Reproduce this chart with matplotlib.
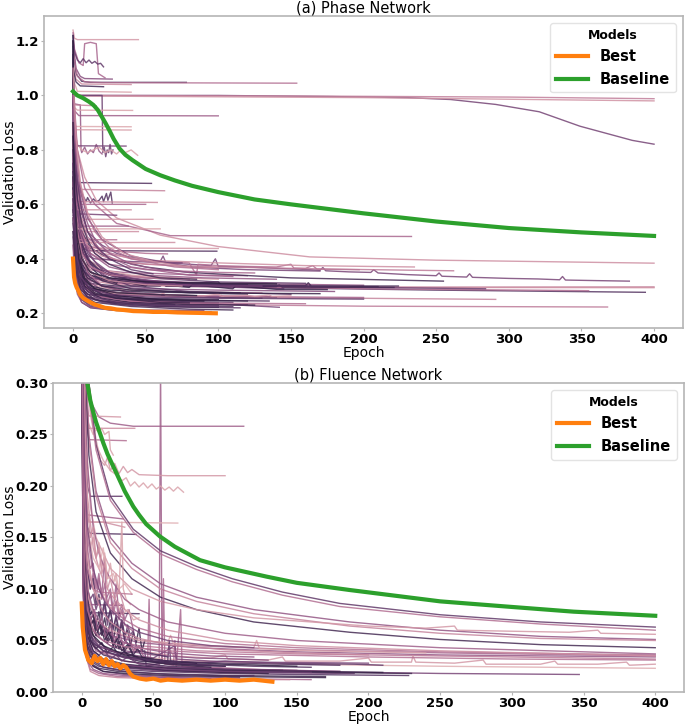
import numpy as np
import matplotlib
matplotlib.use('Agg')
import matplotlib.pyplot as plt
import seaborn as sns

# ---- (a) Phase network: best / baseline (epoch, loss) ----
phase_best_epoch = [0, 0.7, 1.5, 2.5, 3.6, 5, 7, 9.4, 12, 15, 18.6, 22, 26, 30, 35, 41.4, 48, 55, 64, 72, 80, 90, 98.3]
phase_best_loss = [0.401, 0.333, 0.31, 0.295, 0.284, 0.268, 0.256, 0.248, 0.24, 0.232, 0.226, 0.22, 0.218, 0.214, 0.212, 0.208, 0.207, 0.205, 0.205, 0.203, 0.202, 0.201, 0.2]
phase_base_epoch = [0, 3, 7, 11, 14, 17, 20, 22.5, 25, 28, 32, 36, 41, 50, 60, 70, 82, 100, 125, 150, 200, 250, 300, 350, 400]
phase_base_loss = [1.015, 1.0, 0.99, 0.977, 0.965, 0.947, 0.92, 0.897, 0.872, 0.84, 0.805, 0.782, 0.762, 0.73, 0.707, 0.688, 0.668, 0.645, 0.618, 0.6, 0.567, 0.537, 0.513, 0.497, 0.484]

# other trials: flat [epoch, loss, epoch, loss, ...] and a shade (0 light .. 1 dark)
phase_runs = [
    [0, 1.24, 1, 1.21, 3, 1.205, 45, 1.205],
    [0, 1.23, 1, 1.17, 4, 1.12, 7, 1.11, 8, 1.19, 12, 1.195, 16, 1.19, 17.5, 1.08, 22, 1.065],
    [0, 1.22, 1, 1.16, 3, 1.13, 5, 1.12, 7, 1.135, 9, 1.12, 11, 1.13, 13, 1.118, 15, 1.125, 17, 1.115, 19, 1.118, 21, 1.105],
    [0, 1.2, 2, 1.1, 5, 1.07, 8, 1.062, 27, 1.06],
    [0, 1.18, 2, 1.08, 6, 1.052, 12, 1.048, 78, 1.048],
    [0, 1.16, 3, 1.07, 8, 1.05, 20, 1.047, 154, 1.045],
    [0, 1.12, 2, 1.06, 6, 1.042, 40, 1.04],
    [0, 1.1, 2, 1.05, 5, 1.035, 21, 1.032],
    [0, 1.06, 3, 1.015, 40, 1.012],
    [0, 1.0, 100, 1.0, 176, 0.996, 230, 0.992, 260, 0.985, 291, 0.967, 321, 0.94, 349, 0.887, 367, 0.861, 385, 0.835, 400, 0.821],
    [0, 1.0, 150, 0.998, 300, 0.994, 400, 0.988],
    [0, 0.998, 200, 0.992, 400, 0.98],
    [0, 1.0, 20, 1.0, 20.5, 0.79, 21.5, 0.81, 22.5, 0.775, 23.5, 0.8, 24.5, 0.79, 25.5, 0.82, 26.5, 0.785, 27.5, 0.8],
    [0, 0.97, 5, 0.965, 5.5, 0.8, 6, 0.79, 8, 0.81, 10, 0.785, 12, 0.8, 14, 0.79, 16, 0.82, 18, 0.795, 20, 0.785],
    [0, 0.9, 3, 0.82, 6, 0.8, 10, 0.79, 14, 0.8, 18, 0.81, 22, 0.79, 26, 0.8, 30, 0.785, 33, 0.8, 36, 0.79, 40, 0.8, 44.5, 0.78],
    [0, 0.97, 2, 0.965, 16, 0.962],
    [0, 0.96, 3, 0.946, 41, 0.945],
    [0, 0.95, 4, 0.926, 100, 0.925],
    [0, 0.9, 2, 0.886, 40, 0.885],
    [0, 0.88, 2, 0.874, 40, 0.873],
    [0, 0.85, 2, 0.815, 36.5, 0.814],
    [0, 0.75, 3, 0.68, 5, 0.66, 7, 0.63, 9, 0.61, 10, 0.625, 12, 0.605, 14, 0.62, 16, 0.61, 18, 0.615, 20, 0.63, 21, 0.61, 23, 0.64, 24, 0.615, 26, 0.645, 27, 0.605],
    [0, 0.72, 3, 0.68, 54, 0.677],
    [0, 0.7, 3, 0.655, 63, 0.65],
    [0, 0.66, 3, 0.61, 58, 0.607],
    [0, 1.0, 3, 0.8, 8, 0.7, 16, 0.615, 30, 0.55, 60, 0.487, 100, 0.445, 163, 0.407, 250, 0.395, 400, 0.384],
    [0, 1.05, 3, 0.8, 8, 0.66, 15, 0.6, 30, 0.53, 67, 0.485, 233, 0.482],
    [0, 1.1, 2, 0.75, 5, 0.58, 10, 0.5, 20, 0.45, 30, 0.42, 40, 0.405, 50, 0.395, 60, 0.39, 62, 0.41, 64, 0.385, 80, 0.38, 95, 0.375, 98, 0.4, 100, 0.372,
     120, 0.37, 140, 0.365, 156, 0.362, 170, 0.358, 172, 0.368, 174, 0.356, 190, 0.352, 205, 0.35, 207, 0.36, 210, 0.348, 230, 0.342, 250, 0.338,
     252, 0.348, 254, 0.336, 271, 0.333, 273, 0.345, 275, 0.332, 300, 0.328, 320, 0.326, 335, 0.323, 337, 0.335, 339, 0.322, 360, 0.32, 383, 0.318],
    [0, 1.0, 2, 0.7, 5, 0.56, 10, 0.48, 20, 0.43, 40, 0.4, 60, 0.39, 80, 0.385, 85, 0.34, 86, 0.38, 100, 0.375, 120, 0.372, 140, 0.37, 150, 0.38,
     152, 0.366, 160, 0.365, 165, 0.375, 168, 0.362, 197, 0.36],
    [0, 0.62, 2, 0.5, 5, 0.45, 10, 0.43, 99, 0.428],
    [0, 0.6, 3, 0.47, 8, 0.44, 100, 0.438],
    [0, 0.58, 3, 0.5, 6, 0.5, 45, 0.5],
    [0, 0.56, 4, 0.52, 38, 0.52],
    [0, 0.57, 4, 0.545, 55, 0.545],
    [0, 0.6, 4, 0.565, 30, 0.56],
    [0, 0.95, 3, 0.6, 8, 0.48, 20, 0.42, 50, 0.395, 100, 0.385, 160, 0.375, 235, 0.37],
    [0, 0.9, 3, 0.55, 8, 0.45, 20, 0.4, 50, 0.38, 100, 0.37, 180, 0.362, 262, 0.356],
    [0, 1.0, 1, 0.6, 3, 0.42, 6, 0.36, 12, 0.33, 30, 0.31, 80, 0.3, 150, 0.297, 250, 0.296, 400, 0.297],
    [0, 0.9, 1, 0.55, 3, 0.4, 6, 0.35, 12, 0.32, 30, 0.305, 80, 0.298, 200, 0.295, 400, 0.294],
    [0, 0.95, 1, 0.6, 3, 0.42, 8, 0.35, 20, 0.32, 50, 0.305, 120, 0.295, 250, 0.285, 394, 0.277],
    [0, 0.8, 2, 0.45, 5, 0.36, 10, 0.33, 30, 0.31, 100, 0.3, 200, 0.29, 355, 0.283],
    [0, 0.85, 2, 0.45, 5, 0.37, 12, 0.33, 40, 0.31, 80, 0.305, 82, 0.312, 84, 0.303, 120, 0.3, 160, 0.298, 162, 0.306, 164, 0.297, 200, 0.295, 284, 0.29],
    [0, 0.7, 2, 0.42, 5, 0.34, 10, 0.31, 30, 0.3, 60, 0.3, 62, 0.308, 64, 0.299, 100, 0.298, 140, 0.298, 142, 0.305, 144, 0.296, 221, 0.295],
    [0, 0.75, 2, 0.4, 5, 0.32, 10, 0.29, 30, 0.27, 100, 0.26, 200, 0.255, 291, 0.251],
    [0, 0.65, 2, 0.38, 5, 0.3, 10, 0.27, 30, 0.245, 100, 0.232, 200, 0.226, 368, 0.223],
    [0, 0.8, 1, 0.5, 3, 0.35, 6, 0.3, 15, 0.27, 40, 0.25, 80, 0.24, 142, 0.222],
    [0, 0.9, 1, 0.5, 3, 0.32, 6, 0.27, 15, 0.24, 40, 0.225, 80, 0.215, 110, 0.212],
    [0, 0.7, 1, 0.45, 3, 0.3, 6, 0.25, 12, 0.225, 30, 0.212, 60, 0.208, 95, 0.206],
    [0, 0.6, 1, 0.4, 3, 0.28, 6, 0.24, 12, 0.22, 30, 0.21, 70, 0.205],
    [0, 0.8, 2, 0.45, 4, 0.34, 8, 0.3, 20, 0.28, 50, 0.27, 100, 0.262, 140, 0.26],
    [0, 0.85, 2, 0.5, 4, 0.38, 8, 0.33, 20, 0.3, 50, 0.29, 100, 0.285, 180, 0.28],
    [0, 1.1, 1, 0.7, 3, 0.5, 6, 0.42, 12, 0.37, 25, 0.34, 50, 0.32, 100, 0.31, 200, 0.303],
    [0, 1.2, 1, 0.8, 3, 0.55, 6, 0.45, 12, 0.39, 25, 0.35, 50, 0.33, 100, 0.315, 160, 0.31],
    [0, 0.75, 2, 0.44, 5, 0.35, 10, 0.31, 25, 0.29, 60, 0.28, 130, 0.275],
    [0, 0.7, 2, 0.4, 5, 0.32, 10, 0.29, 25, 0.27, 60, 0.262, 100, 0.26, 102, 0.266, 104, 0.259, 128, 0.26],
    [0, 0.9, 1, 0.6, 3, 0.45, 6, 0.38, 12, 0.34, 25, 0.32, 60, 0.31, 120, 0.305],
    [0, 0.68, 2, 0.38, 5, 0.3, 10, 0.27, 25, 0.255, 60, 0.245, 110, 0.24],
    [0, 0.62, 2, 0.36, 5, 0.29, 10, 0.262, 25, 0.245, 60, 0.235, 120, 0.232],
    [0, 0.55, 2, 0.34, 5, 0.28, 10, 0.255, 25, 0.24, 60, 0.23, 100, 0.228],
    [0, 1.0, 2, 0.55, 5, 0.42, 10, 0.36, 20, 0.33, 40, 0.315, 80, 0.305, 150, 0.3, 210, 0.298],
    [0, 0.7, 3, 0.42, 8, 0.38, 15, 0.36, 35, 0.35, 90, 0.34, 120, 0.338],
    [0, 0.9, 2, 0.5, 6, 0.4, 12, 0.36, 30, 0.34, 60, 0.33, 75, 0.328],
    [0, 0.8, 3, 0.46, 6, 0.42, 15, 0.4, 40, 0.39, 75, 0.385],
    [0, 0.85, 3, 0.5, 8, 0.45, 25, 0.43, 50, 0.42, 65, 0.418],
    [0, 1.15, 1, 0.8, 3, 0.6, 6, 0.5, 12, 0.44, 25, 0.4, 50, 0.37, 80, 0.35, 150, 0.33, 255, 0.318],
    [0, 0.9, 2, 0.55, 5, 0.45, 10, 0.4, 20, 0.36, 40, 0.34, 70, 0.33, 100, 0.325],
    [0, 1.1, 1, 0.72, 3, 0.52, 7, 0.42, 15, 0.36, 30, 0.33, 60, 0.31, 90, 0.3],
    [0, 1.22, 0.5, 0.9, 1, 0.6, 2, 0.45, 4, 0.35, 8, 0.3, 20, 0.27, 50, 0.255, 100, 0.25],
    # the dense bundle near the bottom
    [0, 0.78, 2, 0.6, 5, 0.48, 10, 0.4, 20, 0.34, 40, 0.3, 80, 0.28, 150, 0.27],
    [0, 0.7, 2, 0.52, 5, 0.42, 10, 0.36, 20, 0.32, 40, 0.29, 80, 0.275, 120, 0.27],
    [0, 0.65, 2, 0.5, 5, 0.4, 10, 0.34, 20, 0.3, 40, 0.275, 80, 0.26, 130, 0.255],
    [0, 0.9, 2, 0.65, 5, 0.5, 10, 0.42, 20, 0.36, 40, 0.32, 80, 0.3, 145, 0.29],
    [0, 0.6, 2, 0.45, 5, 0.36, 10, 0.3, 20, 0.27, 40, 0.25, 80, 0.24, 100, 0.238],
    [0, 0.55, 2, 0.42, 5, 0.33, 10, 0.28, 20, 0.255, 40, 0.24, 80, 0.232, 125, 0.23],
    [0, 0.5, 2, 0.38, 5, 0.3, 10, 0.26, 20, 0.24, 40, 0.228, 80, 0.222, 115, 0.22],
    [0, 0.48, 1, 0.36, 3, 0.29, 6, 0.25, 12, 0.23, 25, 0.218, 50, 0.212, 90, 0.21],
    [0, 0.45, 1, 0.34, 3, 0.27, 6, 0.24, 12, 0.222, 25, 0.213, 50, 0.208, 75, 0.207],
    [0, 0.72, 2, 0.55, 5, 0.45, 10, 0.38, 20, 0.33, 30, 0.31, 31, 0.32, 50, 0.3, 52, 0.31, 80, 0.295, 82, 0.305, 110, 0.29, 112, 0.3, 140, 0.288, 175, 0.287],
    [0, 0.85, 2, 0.6, 5, 0.47, 10, 0.4, 20, 0.35, 40, 0.32, 80, 0.31, 100, 0.315, 102, 0.305, 160, 0.302, 162, 0.312, 164, 0.3, 224, 0.3],
    [0, 1.0, 1, 0.75, 3, 0.55, 6, 0.45, 12, 0.38, 25, 0.34, 50, 0.32, 100, 0.305, 150, 0.3, 190, 0.298],
    [0, 0.8, 2, 0.55, 5, 0.42, 10, 0.35, 20, 0.3, 40, 0.275, 80, 0.265, 150, 0.26, 200, 0.258],
    [0, 0.7, 2, 0.5, 5, 0.38, 10, 0.32, 20, 0.285, 40, 0.268, 80, 0.262, 100, 0.26],
    [0, 0.95, 1, 0.7, 3, 0.52, 6, 0.43, 12, 0.37, 25, 0.33, 50, 0.31, 100, 0.3, 130, 0.3],
    [0, 0.62, 2, 0.48, 5, 0.38, 10, 0.33, 20, 0.3, 40, 0.285, 80, 0.278, 115, 0.275],
    [0, 0.58, 2, 0.44, 5, 0.35, 10, 0.3, 20, 0.27, 40, 0.255, 80, 0.248, 135, 0.245],
    [0, 0.53, 2, 0.4, 5, 0.32, 10, 0.28, 20, 0.26, 40, 0.245, 60, 0.24],
    [0, 0.5, 2, 0.36, 5, 0.29, 10, 0.26, 20, 0.245, 40, 0.235, 70, 0.232],
    [0, 1.1, 1, 0.8, 3, 0.6, 6, 0.5, 12, 0.42, 25, 0.37, 50, 0.34, 90, 0.33, 140, 0.325],
    [0, 0.9, 1, 0.65, 3, 0.5, 6, 0.42, 12, 0.37, 25, 0.34, 50, 0.33, 80, 0.325],
    [0, 1.0, 1, 0.7, 3, 0.55, 6, 0.47, 12, 0.42, 25, 0.38, 50, 0.36, 100, 0.35, 125, 0.348],
    [0, 0.85, 1, 0.6, 3, 0.47, 6, 0.4, 12, 0.35, 25, 0.32, 50, 0.305, 75, 0.3],
    [0, 0.7, 2, 0.48, 5, 0.36, 10, 0.31, 20, 0.28, 40, 0.27, 60, 0.268, 62, 0.274, 64, 0.266, 90, 0.264, 100, 0.27, 102, 0.263, 120, 0.266,
     125, 0.262, 135, 0.267, 137, 0.262, 150, 0.264],
    [0, 0.65, 2, 0.45, 5, 0.34, 10, 0.29, 20, 0.26, 40, 0.245, 80, 0.238, 160, 0.235],
    [0, 1.2, 0.5, 0.9, 1, 0.7, 2, 0.5, 4, 0.38, 8, 0.32, 15, 0.29, 30, 0.275, 60, 0.268, 85, 0.265],
    [0, 1.15, 0.5, 0.8, 1, 0.6, 2, 0.45, 4, 0.36, 8, 0.3, 15, 0.27, 30, 0.255, 60, 0.25, 120, 0.245],
    [0, 0.75, 1, 0.5, 2, 0.4, 4, 0.33, 8, 0.28, 15, 0.25, 30, 0.235, 60, 0.225, 100, 0.222],
    [0, 0.95, 2, 0.75, 5, 0.6, 10, 0.5, 20, 0.42, 40, 0.37, 80, 0.34, 110, 0.335],
    [0, 1.0, 2, 0.8, 5, 0.65, 10, 0.55, 20, 0.47, 40, 0.41, 80, 0.37, 120, 0.36, 170, 0.355],
    [0, 0.65, 2, 0.57, 5, 0.5, 10, 0.45, 20, 0.41, 40, 0.385, 80, 0.37, 100, 0.368],
    [0, 0.6, 3, 0.46, 6, 0.46, 70, 0.46],
    [0, 0.55, 3, 0.47, 6, 0.47, 30, 0.47],
    [0, 0.6, 3, 0.51, 6, 0.51, 60, 0.51],
    [0, 0.65, 3, 0.58, 6, 0.58, 40, 0.58],
    [0, 0.68, 3, 0.6, 6, 0.6, 50, 0.6],
    [0, 0.9, 3, 0.7, 6, 0.6, 10, 0.53, 15, 0.47, 25, 0.42, 40, 0.38, 60, 0.36, 80, 0.35],
    [0, 0.85, 3, 0.68, 6, 0.58, 10, 0.5, 15, 0.45, 25, 0.4, 40, 0.36, 55, 0.345],
    [0, 1.0, 3, 0.75, 6, 0.64, 10, 0.56, 15, 0.5, 25, 0.44, 40, 0.4, 70, 0.37, 100, 0.36],
    [0, 0.8, 3, 0.62, 6, 0.53, 10, 0.47, 15, 0.42, 25, 0.38, 40, 0.35, 60, 0.33, 85, 0.325],
    [0, 0.75, 2, 0.6, 5, 0.5, 10, 0.43, 15, 0.39, 25, 0.35, 40, 0.33, 70, 0.31],
    [0, 1.1, 2, 0.85, 5, 0.68, 10, 0.57, 20, 0.48, 35, 0.42, 55, 0.39, 80, 0.37],
    [0, 0.7, 2, 0.5, 4, 0.4, 8, 0.33, 15, 0.29, 30, 0.265, 60, 0.25, 90, 0.245],
    [0, 0.66, 2, 0.47, 4, 0.37, 8, 0.31, 15, 0.275, 30, 0.255, 60, 0.24, 80, 0.238],
    [0, 0.6, 2, 0.43, 4, 0.34, 8, 0.29, 15, 0.26, 30, 0.24, 60, 0.228, 110, 0.225],
    [0, 0.85, 1, 0.6, 3, 0.42, 6, 0.34, 12, 0.3, 25, 0.285, 50, 0.278, 100, 0.274, 170, 0.272],
    [0, 0.75, 1, 0.55, 3, 0.4, 6, 0.33, 12, 0.29, 25, 0.27, 50, 0.26, 100, 0.255, 200, 0.252],
    [0, 0.9, 1, 0.65, 3, 0.48, 6, 0.4, 12, 0.35, 25, 0.33, 50, 0.315, 100, 0.31, 140, 0.308],
]
phase_shades = [0.25, 0.5, 0.8, 0.65, 0.88, 0.45, 0.3, 0.9, 0.2, 0.72, 0.38, 0.28, 0.75, 0.6, 0.2, 0.35, 0.2, 0.55,
                0.18, 0.22, 0.7, 0.85, 0.85, 0.35, 0.3, 0.3, 0.5, 0.7, 0.45, 0.85, 0.25, 0.3, 0.55, 0.25, 0.7, 0.3, 0.4,
                0.35, 0.3, 0.85, 0.45, 0.75, 0.9, 0.35, 0.4, 0.7, 0.9, 0.8, 0.85, 0.9, 0.65, 0.6, 0.8, 0.25, 0.3, 0.95,
                0.85, 0.6, 0.7, 0.9, 0.55, 0.4, 0.7, 0.45, 0.9, 0.2, 0.75, 0.95,
                0.8, 0.9, 0.85, 0.75, 0.9, 0.95, 0.8, 0.7, 0.6, 0.95, 0.9, 0.85, 0.5, 0.65, 0.7, 0.95, 0.85, 0.75,
                0.9, 0.6, 0.4, 0.5, 0.3, 0.25, 0.45, 1.0, 0.95, 0.9, 0.55, 0.7, 0.35, 0.3, 0.45, 0.2, 0.3, 0.5,
                0.6, 0.8, 0.45, 0.9, 0.7, 0.3, 1.0, 0.95, 0.85, 0.95, 0.8, 1.0]

# ---- (b) Fluence network ----
flu_best_epoch = [0, 0.7, 2.3, 4.6, 7, 9, 11, 13, 15, 17, 19, 21, 23, 25, 27, 29, 31, 33.6, 36, 40.6, 45, 50, 55, 60, 70, 80, 90, 100, 110, 120, 133]
flu_best_loss = [0.086, 0.063, 0.041, 0.031, 0.028, 0.035, 0.03, 0.033, 0.027, 0.032, 0.026, 0.03, 0.025, 0.027, 0.023, 0.026, 0.024, 0.018,
                 0.015, 0.013, 0.012, 0.013, 0.011, 0.012, 0.011, 0.012, 0.011, 0.012, 0.011, 0.012, 0.01]
flu_base_epoch = [0, 2, 3.9, 6, 8, 10, 12.8, 15, 18, 20, 24.4, 30, 36, 40, 45, 54.6, 65, 82.5, 100, 129, 150, 187, 250, 296, 343, 400]
flu_base_loss = [0.45, 0.36, 0.30, 0.283, 0.272, 0.262, 0.251, 0.242, 0.231, 0.225, 0.212, 0.195, 0.18, 0.172, 0.163, 0.151, 0.141, 0.128,
                 0.121, 0.112, 0.106, 0.099, 0.088, 0.083, 0.078, 0.074]

flu_runs = [
    [0, 0.8, 1, 0.2, 3, 0.08, 6, 0.05, 10, 0.04, 20, 0.035, 30, 0.03, 40, 0.028, 50, 0.027, 54, 0.026, 55, 0.32, 56, 0.028, 70, 0.025, 90, 0.024, 120, 0.022, 150, 0.021, 180, 0.02],
    [0, 0.6, 3, 0.33, 5, 0.3, 7, 0.28, 12, 0.267, 20, 0.261, 36, 0.258, 113, 0.258],
    [0, 0.5, 3, 0.28, 5, 0.268, 27, 0.267],
    [0, 0.45, 3, 0.27, 5, 0.256, 37, 0.256],
    [0, 0.45, 3, 0.26, 5, 0.245, 31, 0.244],
    [0, 0.5, 3, 0.27, 5, 0.26, 8, 0.25, 10, 0.255, 12, 0.252, 14, 0.256, 16, 0.25, 19, 0.253, 20, 0.235, 22, 0.23],
    [0, 0.6, 3, 0.35, 6, 0.28, 10, 0.245, 13, 0.225, 16, 0.22, 18, 0.228, 20, 0.215, 23, 0.222, 26, 0.212, 29, 0.219, 32, 0.213, 35, 0.216, 40, 0.211, 60, 0.21, 100, 0.21],
    [0, 0.55, 3, 0.32, 6, 0.27, 10, 0.24, 15, 0.225, 20, 0.215, 25, 0.21, 28, 0.205, 31, 0.208, 34, 0.2, 37, 0.204, 40, 0.199, 43, 0.203, 46, 0.198,
     49, 0.202, 52, 0.197, 55, 0.2, 58, 0.196, 61, 0.199, 64, 0.195, 67, 0.199, 71, 0.194],
    [0, 0.5, 2, 0.25, 4, 0.2, 6, 0.19, 28, 0.19],
    [0, 0.45, 2, 0.2, 4, 0.17, 6, 0.165, 67, 0.164],
    [0, 0.4, 2, 0.2, 4, 0.16, 6, 0.154, 38, 0.153],
    [0, 0.4, 2, 0.2, 4, 0.172, 29, 0.168],
    [0, 0.38, 2, 0.18, 5, 0.165, 15, 0.165, 30, 0.16],
    [0, 0.7, 2, 0.4, 5, 0.3, 10, 0.24, 20, 0.19, 36, 0.158, 55, 0.137, 80, 0.122, 105, 0.11, 140, 0.097, 180, 0.086, 250, 0.075, 320, 0.068, 400, 0.063],
    [0, 0.7, 2, 0.39, 5, 0.29, 10, 0.235, 20, 0.186, 36, 0.155, 55, 0.134, 80, 0.119, 105, 0.107, 140, 0.094, 180, 0.083, 250, 0.073, 320, 0.066, 400, 0.06],
    [0, 0.6, 2, 0.35, 5, 0.25, 10, 0.195, 20, 0.15, 35, 0.125, 55, 0.105, 80, 0.092, 120, 0.08, 187, 0.068, 250, 0.06, 320, 0.054, 400, 0.051],
    [0, 0.6, 2, 0.34, 5, 0.245, 10, 0.19, 20, 0.145, 35, 0.12, 55, 0.1, 80, 0.088, 120, 0.076, 187, 0.064, 250, 0.057, 320, 0.052, 400, 0.05],
    [0, 0.55, 2, 0.32, 5, 0.23, 10, 0.175, 20, 0.135, 35, 0.11, 55, 0.092, 80, 0.08, 120, 0.068, 187, 0.058, 250, 0.051, 320, 0.046, 400, 0.043],
    [0, 0.5, 3, 0.25, 6, 0.18, 10, 0.15, 20, 0.12, 35, 0.1, 55, 0.088, 80, 0.08, 120, 0.072, 160, 0.068, 200, 0.064, 240, 0.062, 260, 0.064,
     262, 0.06, 300, 0.059, 340, 0.058, 360, 0.06, 362, 0.057, 400, 0.056],
    [0, 0.4, 2, 0.15, 5, 0.09, 10, 0.07, 20, 0.058, 40, 0.05, 80, 0.045, 150, 0.041, 250, 0.038, 400, 0.035],
    [0, 0.4, 2, 0.14, 5, 0.085, 10, 0.065, 20, 0.055, 40, 0.048, 80, 0.043, 150, 0.039, 250, 0.036, 400, 0.034],
    [0, 0.35, 2, 0.12, 5, 0.075, 10, 0.06, 20, 0.05, 40, 0.045, 80, 0.04, 150, 0.037, 250, 0.035, 400, 0.032],
    [0, 0.35, 2, 0.12, 5, 0.07, 10, 0.055, 20, 0.045, 40, 0.04, 60, 0.036, 62, 0.04, 64, 0.035, 90, 0.033, 100, 0.036, 102, 0.032, 130, 0.031,
     140, 0.034, 142, 0.03, 180, 0.03, 200, 0.033, 202, 0.029, 230, 0.029, 231, 0.035, 233, 0.029, 260, 0.028, 280, 0.031, 282, 0.027,
     320, 0.027, 330, 0.03, 332, 0.027, 360, 0.027, 380, 0.029, 382, 0.026, 400, 0.027],
    [0, 0.35, 2, 0.11, 5, 0.065, 10, 0.05, 20, 0.04, 40, 0.034, 80, 0.03, 150, 0.027, 250, 0.025, 400, 0.023],
    [0, 0.35, 1, 0.12, 3, 0.05, 6, 0.035, 12, 0.03, 25, 0.026, 50, 0.023, 100, 0.021, 150, 0.02, 200, 0.019, 250, 0.018, 300, 0.0175, 347, 0.017],
    [0, 0.4, 1, 0.12, 3, 0.045, 6, 0.03, 12, 0.025, 25, 0.022, 50, 0.02, 100, 0.018, 150, 0.017, 228, 0.016],
    [0, 0.4, 1, 0.1, 3, 0.04, 6, 0.028, 12, 0.023, 25, 0.02, 50, 0.018, 100, 0.016, 170, 0.015],
    [0, 0.45, 1, 0.13, 3, 0.05, 6, 0.035, 12, 0.028, 25, 0.024, 50, 0.021, 100, 0.019, 190, 0.018],
    [0, 0.5, 1, 0.15, 3, 0.06, 6, 0.04, 12, 0.032, 25, 0.027, 50, 0.024, 100, 0.022, 150, 0.021],
    [0, 0.35, 1, 0.1, 3, 0.035, 6, 0.022, 12, 0.018, 25, 0.015, 50, 0.014, 100, 0.013, 160, 0.012],
    [0, 0.4, 1, 0.1, 3, 0.035, 6, 0.02, 12, 0.016, 25, 0.014, 50, 0.013, 100, 0.012, 145, 0.012],
    [0, 0.3, 2, 0.12, 4, 0.09, 6, 0.075, 8, 0.08, 10, 0.065, 12, 0.078, 14, 0.06, 16, 0.072, 18, 0.055, 20, 0.07, 22, 0.05, 24, 0.066, 26, 0.052,
     28, 0.07, 30, 0.055, 32, 0.06, 34, 0.045, 36, 0.058, 38, 0.048, 40, 0.062, 42, 0.04, 44, 0.05],
    [0, 0.3, 2, 0.15, 4, 0.1, 6, 0.09, 8, 0.095, 10, 0.08, 12, 0.09, 14, 0.07, 16, 0.085, 18, 0.065, 20, 0.08, 22, 0.06, 24, 0.075, 26, 0.06,
     28, 0.07, 30, 0.05, 32, 0.065, 34, 0.055, 36, 0.06, 38, 0.045],
    [0, 0.35, 2, 0.16, 4, 0.12, 6, 0.1, 8, 0.115, 10, 0.09, 12, 0.11, 14, 0.095, 16, 0.13, 17, 0.09, 20, 0.1, 22, 0.08, 24, 0.105, 26, 0.075,
     28, 0.085, 30, 0.07, 33, 0.08, 36, 0.06],
    [0, 0.4, 2, 0.2, 4, 0.16, 6, 0.14, 8, 0.15, 10, 0.13, 12, 0.145, 14, 0.12, 16, 0.135, 18, 0.11, 20, 0.125, 22, 0.105, 24, 0.115, 26, 0.095,
     28, 0.165, 29, 0.1, 31, 0.09, 34, 0.085],
    [0, 0.35, 2, 0.1, 4, 0.08, 6, 0.077, 40, 0.076],
    [0, 0.3, 2, 0.1, 4, 0.085, 28, 0.084],
    [0, 0.4, 1, 0.15, 3, 0.07, 6, 0.05, 12, 0.04, 25, 0.035, 40, 0.032, 46, 0.03, 47, 0.09, 48, 0.03, 56, 0.028, 57, 0.11, 58, 0.027, 64, 0.026,
     65, 0.05, 66, 0.025, 69, 0.08, 70, 0.025, 90, 0.023, 120, 0.022, 150, 0.02],
    [0, 0.45, 1, 0.15, 3, 0.07, 6, 0.05, 10, 0.045, 20, 0.04, 30, 0.038, 44, 0.04, 45, 0.025, 60, 0.03, 61, 0.05, 62, 0.03, 80, 0.028, 100, 0.03,
     140, 0.028, 190, 0.027, 210, 0.026],
    [0, 0.4, 2, 0.15, 5, 0.09, 10, 0.07, 20, 0.06, 30, 0.055, 40, 0.05, 60, 0.048, 62, 0.055, 64, 0.047, 90, 0.045, 120, 0.043, 122, 0.05,
     124, 0.042, 160, 0.04, 200, 0.039, 240, 0.038],
    [0, 0.5, 1, 0.2, 3, 0.08, 6, 0.05, 10, 0.042, 14, 0.048, 18, 0.038, 22, 0.044, 26, 0.035, 30, 0.04, 34, 0.032, 40, 0.03, 60, 0.028, 80, 0.026, 100, 0.025],
    [0, 0.55, 1, 0.2, 3, 0.09, 6, 0.06, 10, 0.05, 15, 0.045, 20, 0.04, 30, 0.035, 50, 0.03, 80, 0.027, 120, 0.025, 160, 0.024],
    [0, 0.6, 1, 0.25, 3, 0.1, 6, 0.065, 10, 0.055, 20, 0.045, 30, 0.04, 50, 0.036, 80, 0.033, 110, 0.032, 130, 0.031],
    [0, 0.5, 1, 0.2, 3, 0.08, 6, 0.055, 12, 0.045, 25, 0.038, 50, 0.033, 65, 0.045, 66, 0.032, 90, 0.03, 120, 0.029, 200, 0.028],
    # the dense bundle near the bottom
    [0, 0.5, 1, 0.15, 2, 0.08, 4, 0.05, 8, 0.035, 15, 0.03, 30, 0.025, 60, 0.021, 100, 0.019, 130, 0.018],
    [0, 0.5, 1, 0.18, 2, 0.1, 4, 0.06, 8, 0.045, 15, 0.036, 30, 0.03, 60, 0.025, 100, 0.022, 140, 0.021],
    [0, 0.5, 1, 0.14, 2, 0.07, 4, 0.04, 8, 0.03, 15, 0.024, 30, 0.02, 60, 0.017, 100, 0.016, 120, 0.016],
    [0, 0.5, 1, 0.2, 2, 0.12, 4, 0.07, 8, 0.05, 15, 0.04, 30, 0.033, 60, 0.028, 90, 0.026],
    [0, 0.45, 1, 0.12, 2, 0.06, 4, 0.035, 8, 0.025, 15, 0.02, 30, 0.017, 60, 0.015, 110, 0.014],
    [0, 0.5, 1, 0.25, 2, 0.15, 4, 0.09, 6, 0.07, 8, 0.075, 10, 0.06, 12, 0.068, 14, 0.055, 16, 0.062, 18, 0.05, 20, 0.058, 22, 0.045, 24, 0.052,
     26, 0.042, 28, 0.048, 30, 0.038, 35, 0.036, 40, 0.033, 60, 0.03, 80, 0.028],
    [0, 0.5, 1, 0.3, 2, 0.2, 4, 0.12, 6, 0.1, 8, 0.11, 10, 0.085, 12, 0.095, 14, 0.075, 16, 0.088, 18, 0.07, 20, 0.08, 22, 0.062, 24, 0.072,
     26, 0.058, 28, 0.065, 30, 0.05, 34, 0.045, 40, 0.04, 60, 0.034],
    [0, 0.45, 1, 0.2, 2, 0.12, 4, 0.08, 6, 0.065, 9, 0.07, 12, 0.055, 15, 0.06, 18, 0.048, 21, 0.055, 24, 0.043, 27, 0.05, 30, 0.04, 33, 0.046,
     36, 0.036, 39, 0.042, 42, 0.034, 50, 0.03, 70, 0.027, 100, 0.025],
    [0, 0.4, 1, 0.15, 2, 0.09, 4, 0.055, 8, 0.04, 12, 0.036, 16, 0.04, 20, 0.032, 24, 0.036, 28, 0.03, 32, 0.034, 40, 0.027, 60, 0.024, 100, 0.022, 180, 0.02],
    [0, 0.45, 1, 0.2, 2, 0.14, 4, 0.1, 8, 0.08, 12, 0.07, 16, 0.062, 20, 0.056, 30, 0.048, 40, 0.043, 60, 0.038, 90, 0.035, 120, 0.034],
    [0, 0.4, 1, 0.25, 2, 0.18, 4, 0.13, 8, 0.1, 12, 0.085, 16, 0.075, 20, 0.068, 30, 0.058, 40, 0.052, 60, 0.046, 100, 0.041, 150, 0.038, 200, 0.036],
    [0, 0.45, 1, 0.28, 2, 0.2, 4, 0.15, 8, 0.115, 12, 0.1, 16, 0.09, 20, 0.082, 30, 0.07, 40, 0.062, 60, 0.054, 100, 0.047, 150, 0.043, 250, 0.039, 400, 0.036],
    [0, 0.6, 1, 0.4, 2, 0.3, 4, 0.22, 8, 0.16, 12, 0.135, 16, 0.12, 20, 0.11, 30, 0.09, 40, 0.08, 60, 0.068, 100, 0.057, 150, 0.05, 250, 0.043, 400, 0.037],
    [0, 0.55, 1, 0.35, 2, 0.26, 4, 0.19, 8, 0.14, 12, 0.12, 16, 0.105, 20, 0.095, 30, 0.08, 40, 0.07, 60, 0.06, 100, 0.05, 150, 0.045, 250, 0.04, 400, 0.035],
    [0, 0.35, 1, 0.12, 2, 0.06, 4, 0.035, 8, 0.025, 15, 0.02, 30, 0.018, 60, 0.016, 100, 0.015, 170, 0.014],
    [0, 0.4, 1, 0.13, 2, 0.07, 4, 0.045, 8, 0.033, 15, 0.028, 30, 0.024, 60, 0.021, 100, 0.02, 230, 0.018],
    [0, 0.5, 1, 0.22, 2, 0.13, 4, 0.085, 6, 0.07, 9, 0.08, 11, 0.06, 14, 0.072, 17, 0.052, 20, 0.065, 23, 0.048, 26, 0.06, 29, 0.045, 33, 0.055,
     36, 0.04, 40, 0.045, 43, 0.035],
    [0, 0.45, 1, 0.25, 2, 0.18, 4, 0.13, 8, 0.1, 12, 0.09, 16, 0.095, 20, 0.08, 24, 0.088, 28, 0.075, 32, 0.08, 36, 0.07, 40, 0.072],
    [0, 0.5, 1, 0.3, 2, 0.22, 4, 0.16, 8, 0.13, 12, 0.12, 15, 0.14, 18, 0.11, 22, 0.115, 26, 0.1, 30, 0.105, 35, 0.095],
    [0, 0.35, 1, 0.2, 2, 0.15, 4, 0.12, 8, 0.1, 12, 0.097, 35, 0.095],
    [0, 0.5, 1, 0.2, 2, 0.12, 4, 0.075, 8, 0.055, 15, 0.045, 30, 0.036, 60, 0.03, 100, 0.027, 150, 0.025],
    [0, 0.45, 1, 0.16, 2, 0.09, 4, 0.055, 8, 0.04, 15, 0.032, 30, 0.027, 60, 0.023, 100, 0.021, 210, 0.019],
    [0, 0.5, 1, 0.22, 2, 0.13, 4, 0.08, 6, 0.065, 8, 0.07, 10, 0.055, 13, 0.065, 16, 0.05, 19, 0.058, 22, 0.045, 25, 0.052, 28, 0.04, 32, 0.046,
     36, 0.035, 45, 0.03, 60, 0.027, 90, 0.024],
    [0, 0.5, 1, 0.3, 2, 0.2, 4, 0.14, 6, 0.12, 8, 0.125, 10, 0.1, 12, 0.115, 14, 0.09, 16, 0.105, 18, 0.085, 20, 0.095, 22, 0.075, 24, 0.088,
     26, 0.07, 28, 0.08, 30, 0.065, 35, 0.06],
    [0, 0.55, 1, 0.35, 2, 0.25, 4, 0.18, 6, 0.15, 8, 0.16, 10, 0.13, 12, 0.14, 14, 0.115, 16, 0.125, 18, 0.1, 20, 0.11, 23, 0.09, 26, 0.1, 30, 0.08],
    [0, 0.5, 1, 0.3, 2, 0.22, 4, 0.16, 8, 0.12, 12, 0.1, 16, 0.088, 20, 0.08, 30, 0.066, 40, 0.058, 60, 0.05, 90, 0.045, 120, 0.043],
    [0, 0.4, 1, 0.16, 2, 0.1, 4, 0.065, 8, 0.048, 15, 0.04, 30, 0.034, 60, 0.03, 100, 0.028, 180, 0.026],
    [0, 0.4, 1, 0.14, 2, 0.08, 4, 0.05, 8, 0.038, 15, 0.03, 30, 0.026, 60, 0.022, 100, 0.02, 160, 0.019],
    [0, 0.45, 1, 0.1, 2, 0.05, 4, 0.03, 8, 0.022, 15, 0.018, 30, 0.016, 60, 0.014, 90, 0.013],
    [0, 0.4, 1, 0.2, 2, 0.12, 4, 0.08, 8, 0.06, 15, 0.05, 30, 0.044, 60, 0.04, 100, 0.037, 200, 0.034, 300, 0.032, 400, 0.031],
]
flu_shades = [0.55, 0.55, 0.25, 0.3, 0.45, 0.2, 0.25, 0.2, 0.8, 0.15, 0.85, 0.55, 0.3, 0.8, 0.45, 0.6, 0.35, 0.9, 0.25,
              0.5, 0.6, 0.4, 0.25, 0.15, 0.7, 0.85, 0.9, 0.75, 0.6, 0.5, 0.35, 0.95, 0.75, 0.55, 0.2, 0.85, 0.6, 0.5,
              0.8, 0.2, 0.95, 0.85, 0.65, 0.7,
              0.95, 0.9, 0.85, 0.8, 0.7, 0.95, 0.85, 0.9, 0.75, 0.6, 0.35, 0.45, 0.55, 0.3, 0.95, 0.9, 0.55, 0.2, 0.15, 0.4,
              1.0, 0.95, 0.95, 0.5, 0.3, 0.7, 0.85, 0.75, 0.6, 0.45]

cmap = sns.cubehelix_palette(as_cmap=True)

fig = plt.figure(figsize=(6.85, 7.24), dpi=100)
ax1 = fig.add_axes([0.0642, 0.547, 0.933, 0.431])
ax2 = fig.add_axes([0.0774, 0.0442, 0.921, 0.4268])


def draw(ax, runs, shades, best_x, best_y, base_x, base_y, title, label_x):
    for run, s in zip(runs, shades):
        pts = np.array(run).reshape(-1, 2)
        ax.plot(pts[:, 0], pts[:, 1], color=cmap(s), lw=1.0, alpha=0.85)
    ax.plot(best_x, best_y, color='#ff7f0e', lw=3, label='Best')
    ax.plot(base_x, base_y, color='#2ca02c', lw=3, label='Baseline')
    ax.set_title(title, fontsize=10.5, pad=2)
    ax.set_xlabel('Epoch', fontsize=10, labelpad=0)
    ax.set_ylabel('Validation Loss', fontsize=10)
    ax.yaxis.set_label_coords(label_x, 0.5)
    ax.set_xlim(-20, 420)
    ax.set_xticks([0, 50, 100, 150, 200, 250, 300, 350, 400])
    for sp in ax.spines.values():
        sp.set_color('#b5b5b5')
        sp.set_linewidth(1.2)
    ax.tick_params(colors='#b5b5b5', labelcolor='black', labelsize=9.5, length=2, pad=1.5)
    for lab in ax.get_xticklabels() + ax.get_yticklabels():
        lab.set_fontweight('bold')
    leg = ax.legend(title='Models', loc='upper right', prop={'weight': 'bold', 'size': 10.5},
                    title_fontproperties={'weight': 'bold', 'size': 9}, handlelength=2.2)
    leg.get_frame().set_edgecolor('#dddddd')


draw(ax1, phase_runs, phase_shades, phase_best_epoch, phase_best_loss,
     phase_base_epoch, phase_base_loss, '(a) Phase Network', -0.042)
ax1.set_ylim(0.146, 1.292)
ax1.set_yticks([0.2, 0.4, 0.6, 0.8, 1.0, 1.2])
ax1.set_yticklabels(['0.2', '0.4', '0.6', '0.8', '1.0', '1.2'], fontweight='bold')

draw(ax2, flu_runs, flu_shades, flu_best_epoch, flu_best_loss,
     flu_base_epoch, flu_base_loss, '(b) Fluence Network', -0.057)
ax2.set_ylim(0, 0.3)
ax2.set_yticks([0, 0.05, 0.1, 0.15, 0.2, 0.25, 0.3])
ax2.set_yticklabels(['0.00', '0.05', '0.10', '0.15', '0.20', '0.25', '0.30'], fontweight='bold')

fig.savefig('out.png', dpi=100)
